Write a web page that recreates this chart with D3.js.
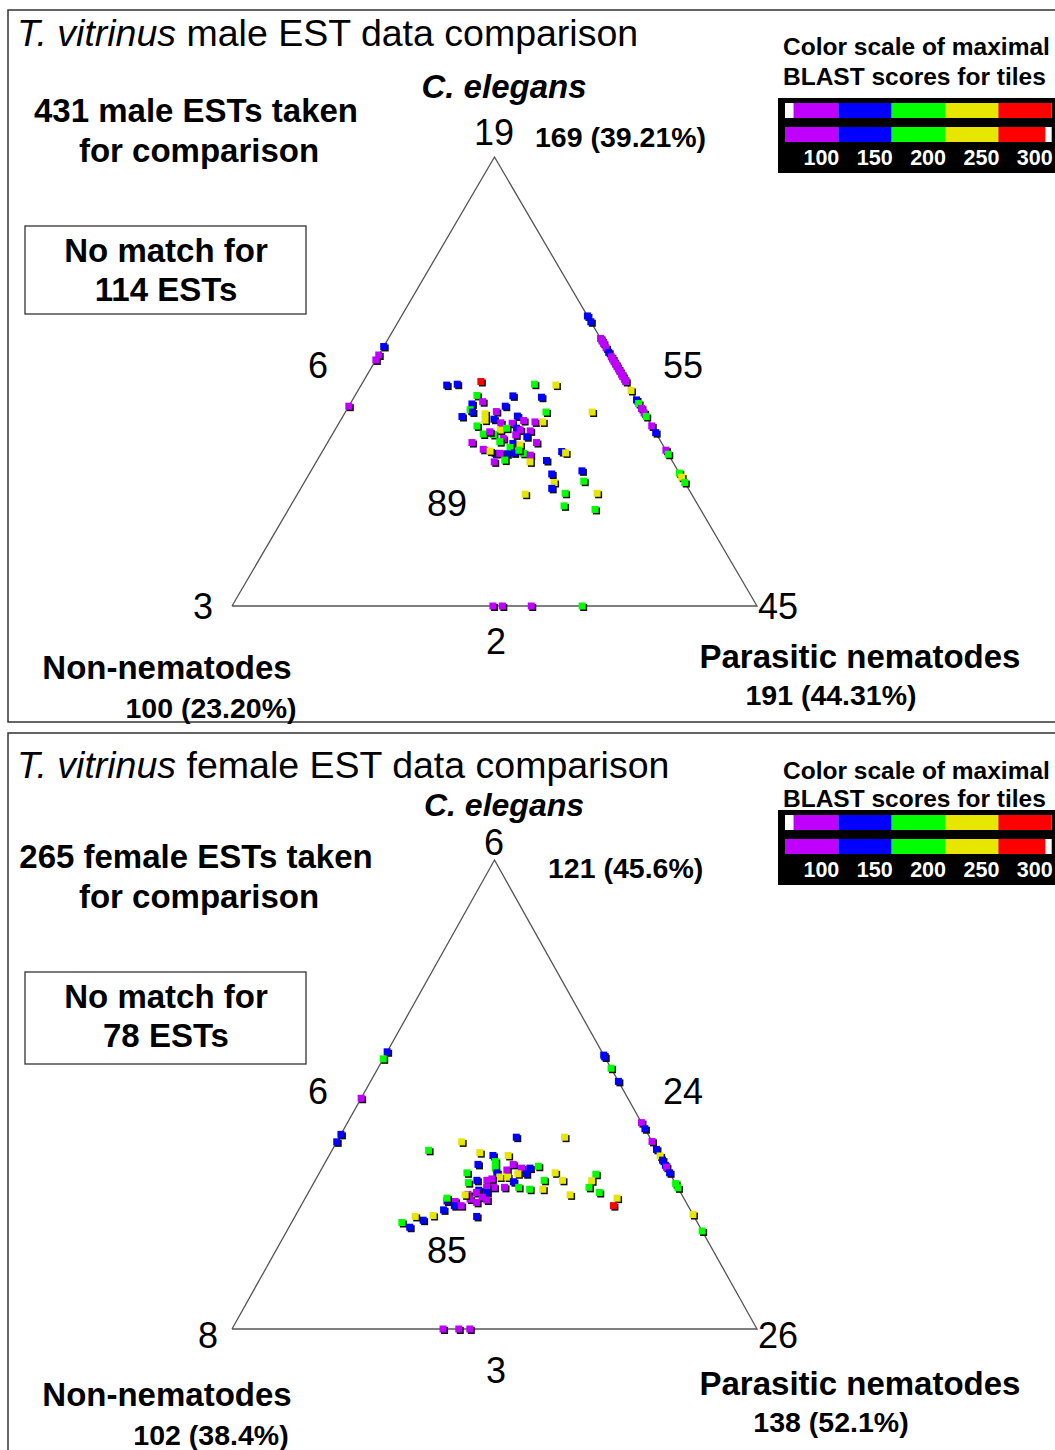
<!DOCTYPE html>
<html>
<head>
<meta charset="utf-8">
<script src="https://cdn.jsdelivr.net/npm/d3@7"></script>
<style>
  body { margin: 0; background: #fff; }
  svg { display: block; }
  text { font-family: "Liberation Sans", Arial, sans-serif; }
</style>
</head>
<body>
<svg id="chart" width="1055" height="1450"></svg>
<script>
// score bins of the tiles: m <100, b 100-150, g 150-200, y 200-250, r >250
const binKeys = ['m', 'b', 'g', 'y', 'r']
const binColors = ['#c000ff', '#0000ff', '#00ff00', '#e6e600', '#ff0000']
const legendTicks = [100, 150, 200, 250, 300]

// male points: [C. elegans share, parasitic share, bin]
const maleInside = [
  [0.492, 0.163, 'b'], [0.494, 0.182, 'b'], [0.500, 0.224, 'r'], [0.494, 0.329, 'g'], [0.492, 0.371, 'y'],
  [0.469, 0.232, 'g'], [0.455, 0.250, 'm'], [0.468, 0.301, 'b'], [0.465, 0.357, 'b'], [0.450, 0.232, 'b'],
  [0.445, 0.298, 'b'], [0.432, 0.382, 'g'], [0.432, 0.470, 'y'], [0.437, 0.235, 'g'], [0.432, 0.242, 'b'],
  [0.422, 0.227, 'b'], [0.428, 0.268, 'y'], [0.414, 0.275, 'y'], [0.433, 0.287, 'm'], [0.416, 0.291, 'b'],
  [0.423, 0.332, 'b'], [0.413, 0.349, 'm'], [0.410, 0.372, 'm'], [0.410, 0.387, 'y'], [0.408, 0.308, 'm'],
  [0.407, 0.330, 'm'], [0.401, 0.266, 'g'], [0.392, 0.315, 'y'], [0.396, 0.325, 'g'], [0.396, 0.344, 'b'],
  [0.392, 0.353, 'm'], [0.390, 0.373, 'm'], [0.383, 0.287, 'g'], [0.382, 0.307, 'g'], [0.388, 0.297, 'm'],
  [0.381, 0.350, 'm'], [0.377, 0.373, 'b'], [0.373, 0.330, 'm'], [0.366, 0.327, 'g'], [0.364, 0.275, 'm'],
  [0.364, 0.398, 'm'], [0.362, 0.354, 'b'], [0.359, 0.369, 'y'], [0.353, 0.353, 'g'], [0.349, 0.304, 'm'],
  [0.340, 0.331, 'b'], [0.345, 0.319, 'y'], [0.339, 0.354, 'b'], [0.340, 0.385, 'g'], [0.336, 0.400, 'm'],
  [0.341, 0.367, 'b'], [0.340, 0.340, 'm'], [0.347, 0.373, 'g'], [0.321, 0.339, 'm'], [0.325, 0.357, 'g'],
  [0.321, 0.407, 'y'], [0.324, 0.437, 'b'], [0.344, 0.456, 'b'], [0.341, 0.465, 'y'], [0.294, 0.462, 'b'],
  [0.275, 0.476, 'y'], [0.262, 0.478, 'b'], [0.301, 0.516, 'b'], [0.278, 0.531, 'g'], [0.251, 0.509, 'g'],
  [0.249, 0.434, 'y'], [0.251, 0.570, 'y'], [0.223, 0.521, 'g'], [0.215, 0.584, 'g']
]
// on the C. elegans / parasitic edge: [C. elegans share, bin]
const maleRight = [
  [0.646, 'b'], [0.633, 'b'], [0.596, 'm'], [0.590, 'm'], [0.585, 'm'], [0.575, 'm'], [0.565, 'b'],
  [0.555, 'm'], [0.550, 'm'], [0.544, 'm'], [0.538, 'm'], [0.533, 'm'], [0.528, 'm'], [0.522, 'm'],
  [0.516, 'm'], [0.511, 'm'], [0.505, 'm'], [0.500, 'm'], [0.480, 'y'], [0.459, 'b'], [0.451, 'g'],
  [0.440, 'm'], [0.430, 'm'], [0.422, 'g'], [0.401, 'm'], [0.386, 'b'], [0.347, 'm'], [0.338, 'g'],
  [0.296, 'g'], [0.287, 'y'], [0.275, 'g']
]
// on the C. elegans / non-nematode edge: [C. elegans share, bin]
const maleLeft = [[0.578, 'b'], [0.559, 'm'], [0.548, 'm'], [0.445, 'm']]
// on the non-nematode / parasitic edge: [parasitic share, bin]
const maleBase = [[0.497, 'm'], [0.515, 'm'], [0.570, 'm'], [0.667, 'g']]

const femaleInside = [
  [0.381, 0.184, 'g'], [0.399, 0.238, 'y'], [0.409, 0.337, 'b'], [0.409, 0.429, 'y'], [0.376, 0.284, 'y'],
  [0.370, 0.312, 'b'], [0.370, 0.341, 'y'], [0.351, 0.293, 'b'], [0.357, 0.323, 'g'], [0.343, 0.330, 'g'],
  [0.351, 0.360, 'm'], [0.339, 0.354, 'm'], [0.343, 0.380, 'm'], [0.343, 0.396, 'b'], [0.347, 0.410, 'g'],
  [0.331, 0.395, 'b'], [0.331, 0.379, 'y'], [0.333, 0.281, 'g'], [0.333, 0.338, 'b'], [0.324, 0.348, 'y'],
  [0.324, 0.363, 'y'], [0.333, 0.449, 'y'], [0.317, 0.471, 'y'], [0.317, 0.436, 'g'], [0.314, 0.379, 'b'],
  [0.312, 0.294, 'g'], [0.317, 0.308, 'b'], [0.317, 0.327, 'm'], [0.320, 0.335, 'm'], [0.302, 0.368, 'm'],
  [0.302, 0.395, 'g'], [0.298, 0.418, 'g'], [0.298, 0.443, 'y'], [0.302, 0.348, 'm'], [0.302, 0.334, 'm'],
  [0.296, 0.322, 'b'], [0.287, 0.306, 'm'], [0.291, 0.320, 'm'], [0.291, 0.340, 'b'], [0.281, 0.336, 'm'],
  [0.275, 0.348, 'm'], [0.277, 0.315, 'm'], [0.270, 0.331, 'm'], [0.286, 0.301, 'y'], [0.286, 0.501, 'y'],
  [0.330, 0.528, 'g'], [0.316, 0.527, 'y'], [0.302, 0.529, 'g'], [0.291, 0.554, 'g'], [0.279, 0.594, 'y'],
  [0.263, 0.595, 'r'], [0.273, 0.273, 'b'], [0.272, 0.289, 'm'], [0.279, 0.270, 'g'], [0.263, 0.292, 'b'],
  [0.263, 0.305, 'm'], [0.254, 0.276, 'b'], [0.242, 0.262, 'y'], [0.232, 0.248, 'b'], [0.240, 0.229, 'y'],
  [0.227, 0.210, 'g'], [0.217, 0.230, 'b'], [0.240, 0.346, 'b']
]
const femaleRight = [
  [0.584, 'b'], [0.580, 'b'], [0.556, 'g'], [0.528, 'b'], [0.440, 'm'], [0.427, 'b'], [0.400, 'm'],
  [0.383, 'b'], [0.369, 'y'], [0.360, 'b'], [0.349, 'b'], [0.345, 'm'], [0.333, 'b'], [0.310, 'g'],
  [0.301, 'g'], [0.244, 'y'], [0.209, 'g']
]
const femaleLeft = [[0.591, 'b'], [0.576, 'g'], [0.492, 'm'], [0.415, 'b'], [0.399, 'b']]
const femaleBase = [[0.402, 'm'], [0.432, 'm'], [0.453, 'm']]

// counts shown round the triangles: apex, left corner, right corner, left edge, right edge, base, inside
const maleCounts = [19, 3, 45, 6, 55, 2, 89]
const femaleCounts = [6, 8, 26, 6, 24, 3, 85]
const maleTotals = ['169 (39.21%)', '100 (23.20%)', '191 (44.31%)']
const femaleTotals = ['121 (45.6%)', '102 (38.4%)', '138 (52.1%)']
const maleNotes = ['431 male ESTs taken', 'for comparison', 'No match for', '114 ESTs']
const femaleNotes = ['265 female ESTs taken', 'for comparison', 'No match for', '78 ESTs']

const svg = d3.select('#chart')
const color = d3.scaleOrdinal(binKeys, binColors)

function drawPanel (dy, sex, counts, totals, notes, inside, right, left, base, lay) {
  const g = svg.append('g').attr('transform', 'translate(0,' + dy + ')')
  g.append('rect')
    .attr('x', 8).attr('y', 10).attr('width', 1100).attr('height', lay.h)
    .attr('fill', 'none').attr('stroke', '#333').attr('stroke-width', 1.5)

  const x = d3.scaleLinear().domain([0, 1]).range([232, 757])
  const y = d3.scaleLinear().domain([0, 1]).range([606, lay.apex])

  g.append('path')
    .attr('d', d3.line()([[x(0), y(0)], [x(1), y(0)], [x(0.5), y(1)], [x(0), y(0)]]))
    .attr('fill', 'none').attr('stroke', '#555').attr('stroke-width', 1.3)

  // every point as [C. elegans share, parasitic share, bin]
  const pts = inside
    .concat(right.map(d => [d[0], 1 - d[0], d[1]]))
    .concat(left.map(d => [d[0], 0, d[1]]))
    .concat(base.map(d => [0, d[0], d[1]]))
  const s = 7
  const mk = g.append('g').selectAll('g').data(pts).enter().append('g')
    .attr('transform', d => 'translate(' + x(d[1] + d[0] / 2) + ',' + y(d[0]) + ')')
  mk.append('rect').attr('x', -s / 2 + 1.5).attr('y', -s / 2 + 1.5).attr('width', s).attr('height', s)
    .attr('fill', '#111')
  mk.append('rect').attr('x', -s / 2).attr('y', -s / 2).attr('width', s).attr('height', s)
    .attr('fill', d => color(d[2]))

  const txt = (tx, ty, str, size, weight, anchor, fill) => g.append('text')
    .attr('x', tx).attr('y', ty).attr('font-size', size).attr('font-weight', weight || 'normal')
    .attr('text-anchor', anchor || 'middle').attr('fill', fill || '#000').text(str)

  const title = g.append('text').attr('x', 17).attr('y', lay.titleY).attr('font-size', 37.5)
  title.append('tspan').attr('font-style', 'italic').text('T. vitrinus')
  title.append('tspan').text(' ' + sex + ' EST data comparison')

  g.append('text').attr('x', 504).attr('y', lay.ceY).attr('font-size', lay.ceSize).attr('font-weight', 'bold')
    .attr('font-style', 'italic').attr('text-anchor', 'middle').text('C. elegans')

  txt(494, lay.apexY, counts[0], 36)
  txt(lay.leftX, lay.cornerY, counts[1], 36)
  txt(778, lay.cornerY, counts[2], 36)
  txt(318, lay.edgeY, counts[3], 36)
  txt(683, lay.edgeY, counts[4], 36)
  txt(496, lay.cornerY + 35, counts[5], 36)
  txt(447, lay.inY, counts[6], 36)

  txt(lay.totX, lay.totY, totals[0], 28.5, 'bold', 'start')
  txt(167, lay.nonY, 'Non-nematodes', 33, 'bold')
  txt(211, lay.nonY + 39, totals[1], 28.5, 'bold')
  txt(860, lay.parY, 'Parasitic nematodes', 33, 'bold')
  txt(831, lay.parY + 37, totals[2], 28.5, 'bold')

  txt(196, lay.noteY, notes[0], 33, 'bold')
  txt(199, lay.noteY + 40, notes[1], 33, 'bold')
  g.append('rect').attr('x', 25).attr('y', lay.boxY).attr('width', 281).attr('height', lay.boxH)
    .attr('fill', 'none').attr('stroke', '#333').attr('stroke-width', 1.3)
  txt(166, lay.boxY + 36, notes[2], 33, 'bold')
  txt(166, lay.boxY + 75, notes[3], 33, 'bold')

  // colour scale legend
  txt(783, lay.legY, 'Color scale of maximal', 24.5, 'bold', 'start')
  txt(783, lay.legY + lay.legGap, 'BLAST scores for tiles', 24.5, 'bold', 'start')
  const ly = lay.legBox
  const lx = d3.scaleLinear().domain([50, 300]).range([785, 1051.7])
  g.append('rect').attr('x', 778).attr('y', ly).attr('width', 300).attr('height', 75).attr('fill', '#000')
  const bins = d3.range(5).map(i => [50 + i * 50, 100 + i * 50, binColors[i]])
  ;[[ly + 5, 58, 300], [ly + 29, 50, 294]].forEach(([by, lo, hi]) => {
    g.append('rect').attr('x', lx(50)).attr('y', by).attr('width', lx(300) - lx(50)).attr('height', 15).attr('fill', '#fff')
    g.selectAll(null).data(bins).enter().append('rect')
      .attr('x', d => lx(Math.max(d[0], lo))).attr('y', by)
      .attr('width', d => lx(Math.min(d[1], hi)) - lx(Math.max(d[0], lo))).attr('height', 15)
      .attr('fill', d => d[2])
  })
  legendTicks.forEach(t => txt(lx(t) + 1, ly + 67, t, 21.5, 'bold', 'end', '#fff'))
}

drawPanel(0, 'male', maleCounts, maleTotals, maleNotes, maleInside, maleRight, maleLeft, maleBase,
  { h: 712, apex: 157, titleY: 46, ceY: 98, ceSize: 33, apexY: 145, leftX: 203, cornerY: 619, edgeY: 378, inY: 516,
    totX: 535, totY: 147, nonY: 679, parY: 668, noteY: 122, boxY: 226, boxH: 88, legY: 55, legGap: 30, legBox: 98 })
drawPanel(723, 'female', femaleCounts, femaleTotals, femaleNotes, femaleInside, femaleRight, femaleLeft, femaleBase,
  { h: 740, apex: 137, titleY: 55, ceY: 93, ceSize: 32, apexY: 132, leftX: 208, cornerY: 625, edgeY: 381, inY: 540,
    totX: 548, totY: 155, nonY: 683, parY: 672, noteY: 145, boxY: 249, boxH: 92, legY: 56, legGap: 28, legBox: 87 })
</script>
</body>
</html>
